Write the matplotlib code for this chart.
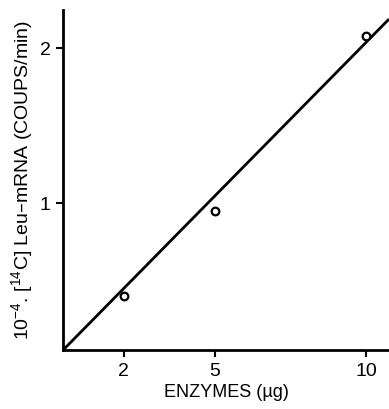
import matplotlib
matplotlib.use('Agg')
from matplotlib import pyplot as plt

# data
enzymes = [2, 5, 10]
counts = [0.40, 0.95, 2.08]
fit_x = [0, 10.75]
fit_y = [0.05, 2.19]
x_ticks = [2, 5, 10]
y_ticks = [1, 2]

plt.rcParams['font.family'] = ['Liberation Sans', 'DejaVu Sans']
plt.rcParams['mathtext.default'] = 'regular'

fig = plt.figure(figsize=(3.89, 4.09), dpi=100)
ax = fig.add_axes([0.162, 0.144, 0.838, 0.832])

ax.plot(fit_x, fit_y, color='black', lw=2, solid_capstyle='butt')
ax.plot(enzymes, counts, 'o', mfc='white', mec='black', ms=5.5, mew=1.6)

ax.set_xlim(0, 10.75)
ax.set_ylim(0.05, 2.25)
ax.set_xticks(x_ticks)
ax.set_yticks(y_ticks)
ax.tick_params(direction='out', length=5, width=1.5, labelsize=14, pad=4)

for s in ['top', 'right']:
    ax.spines[s].set_visible(False)
for s in ['left', 'bottom']:
    ax.spines[s].set_linewidth(2)

ax.set_xlabel('ENZYMES (\u00b5g)', fontsize=13, labelpad=3)
ax.set_ylabel('10$^{-4}$. [$^{14}$C] Leu\u2013mRNA (COUPS/min)', fontsize=14, labelpad=3)

fig.savefig('out.png', dpi=100)
